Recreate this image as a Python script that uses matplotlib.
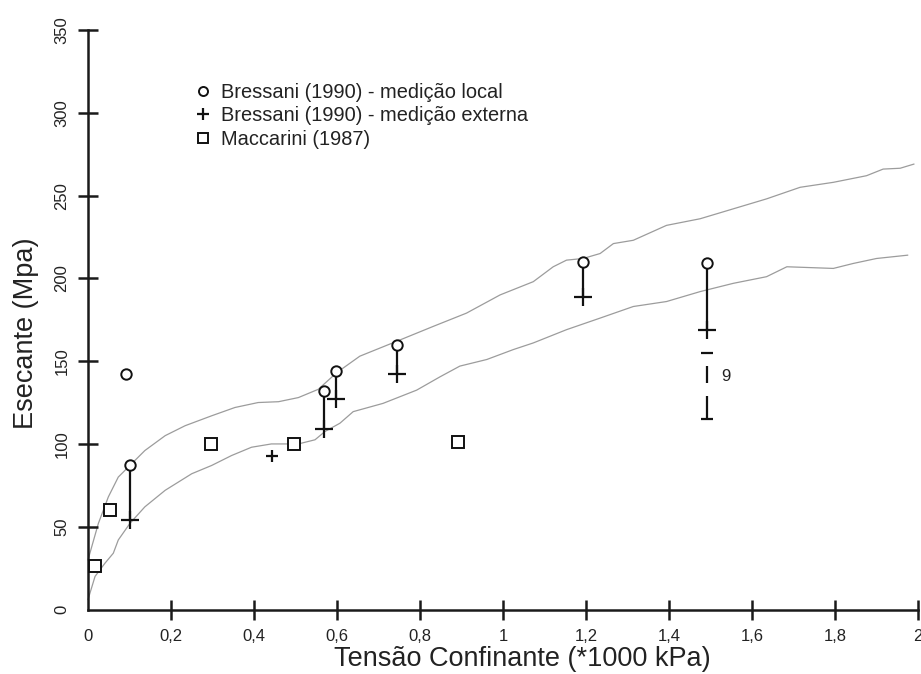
import matplotlib
matplotlib.use('Agg')
import matplotlib.pyplot as plt
from matplotlib.lines import Line2D

plt.rcParams['font.family'] = ['Liberation Sans', 'DejaVu Sans']

# ---------------- data ----------------
x_ticks = [0, 0.2, 0.4, 0.6, 0.8, 1.0, 1.2, 1.4, 1.6, 1.8, 2.0]
x_tick_labels = ["0", "0,2", "0,4", "0,6", "0,8", "1", "1,2", "1,4", "1,6", "1,8", "2"]
y_ticks = [0, 50, 100, 150, 200, 250, 300, 350]
y_tick_labels = ["0", "50", "100", "150", "200", "250", "300", "350"]

# Bressani (1990) - medição local (circles)
local_x = [0.092, 0.100, 0.569, 0.598, 0.744, 1.193, 1.492]
local_y = [142, 87, 132, 144, 160, 210, 209]

# Bressani (1990) - medição externa (plus)
ext_x = [0.100, 0.443, 0.569, 0.598, 0.744, 1.193, 1.492]
ext_y = [54, 93, 109, 127, 142, 189, 169]

# Maccarini (1987) (squares)
macc_x = [0.017, 0.052, 0.297, 0.497, 0.892]
macc_y = [26, 60, 100, 100, 101]

# vertical connectors local -> externa
conn_x = [0.100, 0.569, 0.598, 0.744, 1.193, 1.492]
conn_top = [87, 132, 144, 160, 210, 209]
conn_bot = [54, 109, 127, 142, 189, 169]

# dashed bar at sigma = 1.49 with label "9"
bar_x = 1.492
bar_seg_lo = [137, 115]
bar_seg_hi = [147, 129]
bar_caps = [155, 115]
bar_label = "9"
bar_label_x = 1.525
bar_label_y = 141

# envelope curves
upper_x = [0.0, 0.025, 0.049, 0.073, 0.101, 0.137, 0.186, 0.234, 0.298, 0.354, 0.41, 0.459,
           0.507, 0.555, 0.599, 0.655, 0.744, 0.832, 0.912, 0.993, 1.073, 1.121, 1.153, 1.193,
           1.234, 1.266, 1.314, 1.394, 1.475, 1.555, 1.635, 1.716, 1.796, 1.876, 1.916, 1.957, 1.99]
upper_y = [30, 52, 68, 80, 87, 96, 105, 111, 117, 122, 125, 125.5,
           128, 133, 143, 153, 162, 171, 179, 190, 198, 207, 211, 212,
           215, 221, 223, 232, 236, 242, 248, 255, 258, 262, 266, 266.5, 269]

lower_x = [0.0, 0.017, 0.041, 0.061, 0.073, 0.101, 0.137, 0.186, 0.25, 0.298, 0.346, 0.394,
           0.442, 0.507, 0.547, 0.571, 0.607, 0.639, 0.711, 0.792, 0.848, 0.896, 0.961, 1.025,
           1.073, 1.153, 1.234, 1.314, 1.394, 1.475, 1.555, 1.635, 1.684, 1.796, 1.844, 1.9, 1.975]
lower_y = [6, 20, 28, 34, 42, 52, 62, 72, 82, 87, 93, 98,
           100, 100, 102.5, 107.5, 112.5, 119.5, 124.5, 132.5, 140.5, 147, 151, 157,
           161, 169, 176, 183, 186, 192, 197, 201, 207, 206, 209, 212, 214]

legend_labels = ["Bressani (1990) - medição local",
                 "Bressani (1990) - medição externa",
                 "Maccarini (1987)"]
x_label = "Tensão Confinante (*1000 kPa)"
y_label = "Esecante (Mpa)"

# ---------------- figure ----------------
W, H = 921, 674
fig = plt.figure(figsize=(W / 100, H / 100), dpi=100)
ax_l, ax_r, ax_b, ax_t = 88, 918, 609.5, 30
ax = fig.add_axes([ax_l / W, 1 - ax_b / H, (ax_r - ax_l) / W, (ax_b - ax_t) / H])

ax.set_xlim(0, 2)
ax.set_ylim(0, 350)
for s in ['top', 'right']:
    ax.spines[s].set_visible(False)
for s in ['left', 'bottom']:
    ax.spines[s].set_linewidth(1.8)
    ax.spines[s].set_color('#1a1a1a')

ax.set_xticks(x_ticks)
ax.set_xticklabels(x_tick_labels)
ax.set_yticks(y_ticks)
ax.set_yticklabels(y_tick_labels)
ax.tick_params(axis='both', direction='inout', length=14.5, width=1.8, color='#1a1a1a',
               labelsize=12, labelcolor='#222222')
ax.tick_params(axis='x', pad=7)
ax.tick_params(axis='y', pad=6, labelrotation=90)
for lab in ax.get_yticklabels():
    lab.set_va('center')
ax.xaxis.get_major_ticks()[0].tick1line.set_visible(False)
ax.yaxis.get_major_ticks()[0].tick1line.set_visible(False)

# curves
curve_col = '#9c9c9c'
ax.plot(upper_x, upper_y, color=curve_col, lw=0.9, zorder=1, clip_on=False)
ax.plot(lower_x, lower_y, color=curve_col, lw=0.9, zorder=1, clip_on=False)

# connectors
ax.vlines(conn_x, conn_bot, conn_top, colors='#111111', lw=1.6, zorder=2)

# dashed bar
ax.vlines([bar_x] * len(bar_seg_lo), bar_seg_lo, bar_seg_hi, colors='#111111', lw=1.6, zorder=2)
ax.plot([bar_x] * len(bar_caps), bar_caps, ls='none', marker='_', ms=8, mew=1.6,
        color='#111111', zorder=2)
ax.text(bar_label_x, bar_label_y, bar_label, fontsize=12, color='#222222', va='center', ha='left')

# markers
ax.plot(local_x, local_y, ls='none', marker='o', ms=7.5, mfc='white', mec='#111111',
        mew=1.4, zorder=4, clip_on=False)
big = [i for i in range(len(ext_x)) if i != 1]
small = [1]
ax.plot([ext_x[i] for i in big], [ext_y[i] for i in big], ls='none', marker='+', ms=13.5,
        mew=1.6, color='#111111', zorder=3, clip_on=False)
ax.plot([ext_x[i] for i in small], [ext_y[i] for i in small], ls='none', marker='+', ms=9,
        mew=1.6, color='#111111', zorder=3, clip_on=False)
ax.plot(macc_x, macc_y, ls='none', marker='s', ms=8, mfc='white', mec='#111111',
        mew=1.4, zorder=4, clip_on=False)

# legend
handles = [
    Line2D([], [], ls='none', marker='o', ms=6.5, mfc='white', mec='#111111', mew=1.4),
    Line2D([], [], ls='none', marker='+', ms=9, mew=1.6, color='#111111'),
    Line2D([], [], ls='none', marker='s', ms=6.5, mfc='white', mec='#111111', mew=1.4),
]
ax.legend(handles, legend_labels, loc='upper left',
          bbox_to_anchor=((195 - ax_l) / (ax_r - ax_l), (ax_b - 83) / (ax_b - ax_t)),
          frameon=False, fontsize=14.4, handlelength=0.8, handletextpad=0.5,
          labelspacing=0.22, borderpad=0, borderaxespad=0, labelcolor='#222222')

# axis labels
ax.set_xlabel(x_label, fontsize=19.5, color='#222222')
ax.xaxis.set_label_coords((522 - ax_l) / (ax_r - ax_l), (ax_b - 646) / (ax_b - ax_t))
ax.set_ylabel(y_label, fontsize=19.5, color='#222222')
ax.yaxis.set_label_coords((39 - ax_l) / (ax_r - ax_l), (ax_b - 333) / (ax_b - ax_t))

fig.savefig('out.png', dpi=100, facecolor='white')
